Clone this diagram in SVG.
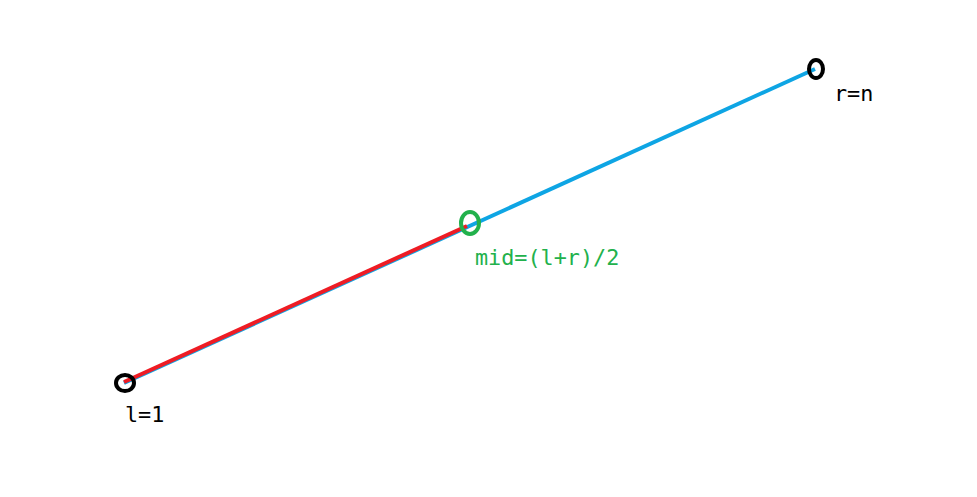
<svg xmlns="http://www.w3.org/2000/svg" width="977" height="497" viewBox="0 0 977 497">
<style>
.lbl{font-family:"DejaVu Sans Mono","Liberation Mono",monospace;font-size:21.8px}
.pt{fill:none;stroke-width:4}
</style>
<rect width="977" height="497" fill="#fff"/>
<g id="connectors">
<line x1="124" y1="383" x2="815" y2="69" stroke="#0ea5e4" stroke-width="4"/>
<line x1="124" y1="382" x2="467" y2="226" stroke="#ee1c24" stroke-width="4"/>
</g>
<g id="node-l">
<ellipse class="pt" cx="125" cy="383" rx="9" ry="8" stroke="#000"/>
<text class="lbl" x="125" y="422" fill="#000">l=1</text>
</g>
<g id="node-mid">
<ellipse class="pt" cx="470" cy="223" rx="9" ry="11" stroke="#22b14c"/>
<text class="lbl" x="475" y="265" fill="#22b14c">mid=(l+r)/2</text>
</g>
<g id="node-r">
<ellipse class="pt" cx="816" cy="69" rx="7" ry="9" stroke="#000"/>
<text class="lbl" x="834" y="101" fill="#000">r=n</text>
</g>
</svg>
